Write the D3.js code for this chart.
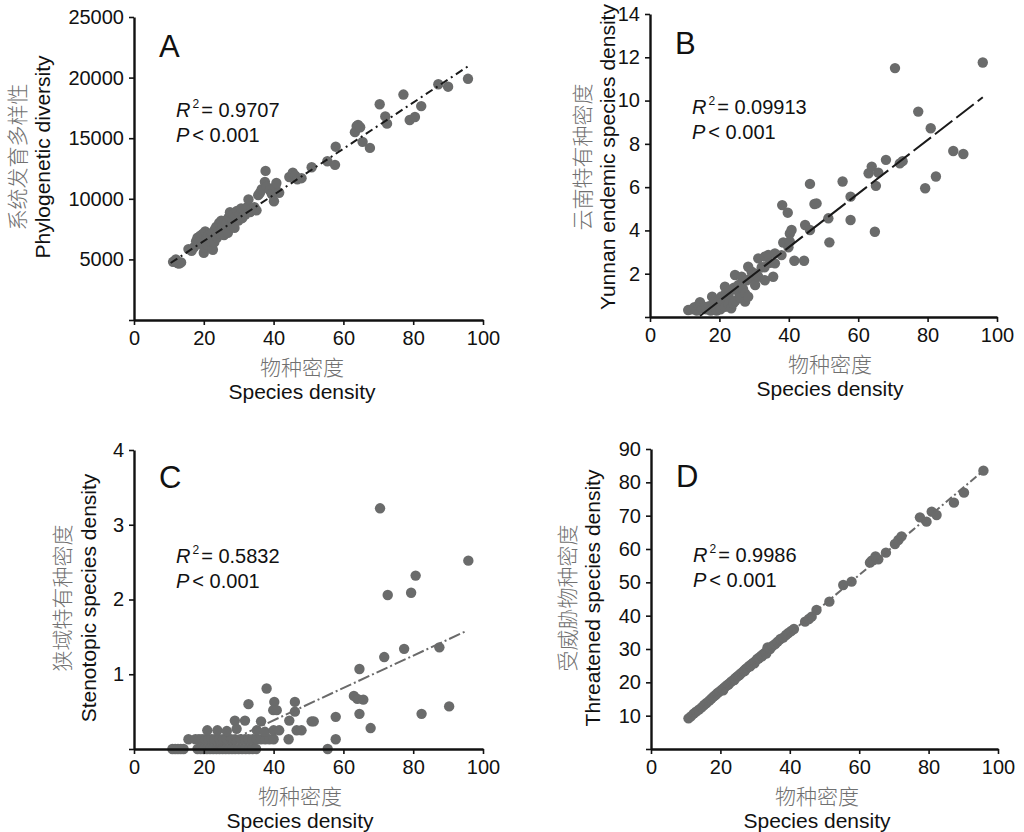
<!DOCTYPE html>
<html>
<head>
<meta charset="utf-8">
<script src="https://cdn.jsdelivr.net/npm/d3@7"></script>
<style>
  body { margin: 0; background: #fff; }
  svg text { font-family: "Liberation Sans", Arial, sans-serif; }
  .cn { font-family: "Noto Sans CJK SC", sans-serif; font-weight: 300; fill: #707070; }
</style>
</head>
<body>
<svg id="chart" width="1024" height="832"></svg>
<script>
// species density vs. each diversity metric, [x, y]
const ptsA = [[11.2,4800],[12.0,5000],[12.5,4700],[12.9,4650],[13.5,4750],[15.6,5850],[16.5,5700],[17.2,6000],[17.8,6500],[18.2,6800],[18.6,6300],[19.0,6950],[19.3,6600],[19.7,7100],[20.0,5550],[20.1,6000],[20.4,7300],[20.8,6700],[21.0,6200],[21.3,7000],[21.7,6500],[22.0,6900],[22.4,7200],[22.6,5800],[23.0,6400],[23.2,7500],[23.6,7700],[23.8,6800],[24.1,7300],[24.4,8000],[24.6,7100],[25.0,8200],[25.2,7500],[25.5,7800],[25.8,7000],[26.0,8200],[26.3,7600],[26.6,8000],[26.9,7200],[27.2,8500],[27.5,8900],[27.8,7800],[28.1,8300],[28.4,8700],[28.8,7600],[29.1,8500],[29.5,9000],[29.9,8200],[30.3,8700],[30.7,9200],[31.0,8400],[31.5,9000],[31.9,8700],[32.4,9300],[32.8,9950],[33.3,8900],[33.8,9200],[34.5,9300],[35.1,9050],[35.6,10300],[36.1,10500],[36.6,10800],[37.5,11400],[37.7,12300],[38.0,11000],[38.9,10700],[39.5,10400],[40.1,9800],[40.5,11000],[40.8,11300],[41.6,10500],[44.5,11800],[45.5,12150],[46.2,11900],[46.8,11600],[48.0,11700],[50.9,12600],[55.4,13100],[57.6,12800],[57.8,14300],[63.3,15500],[63.8,16000],[64.2,16100],[64.8,15900],[65.5,14700],[67.6,14200],[70.4,17800],[72.0,16800],[72.5,16200],[77.2,18600],[79.0,16500],[80.5,16750],[82.3,17650],[87.2,19450],[90.0,19250],[95.7,19900]];
const ptsB = [[11.0,0.32],[12.0,0.35],[12.8,0.45],[13.5,0.30],[14.0,0.55],[14.4,0.68],[15.0,0.40],[15.9,0.47],[16.2,0.35],[17.0,0.50],[17.5,0.30],[17.9,0.94],[18.5,0.70],[18.8,0.45],[19.2,0.30],[19.7,0.71],[20.0,0.55],[20.3,0.35],[20.6,0.95],[21.0,0.70],[21.6,1.40],[21.6,0.47],[21.9,1.10],[22.6,1.00],[22.6,0.60],[23.0,1.20],[23.4,0.40],[24.0,0.63],[24.2,1.35],[24.6,0.75],[24.5,1.94],[25.5,1.48],[25.7,1.10],[26.0,0.90],[26.4,1.86],[26.8,1.30],[27.4,1.09],[27.4,0.71],[27.9,1.70],[28.3,2.32],[28.3,0.94],[29.3,2.09],[29.2,1.80],[30.3,1.48],[30.7,2.00],[31.2,2.71],[31.2,1.86],[32.2,2.30],[33.0,2.30],[33.1,1.70],[33.1,2.79],[34.1,2.87],[34.6,2.50],[35.5,1.86],[36.0,2.48],[36.0,2.94],[37.9,2.86],[38.4,3.44],[38.1,5.17],[39.7,4.82],[39.9,3.22],[40.3,3.86],[40.8,4.02],[40.3,3.48],[41.6,2.60],[44.4,2.60],[44.7,4.25],[46.1,4.02],[46.1,6.15],[47.4,5.22],[48.0,5.25],[51.4,4.56],[51.7,3.45],[55.5,6.26],[57.8,5.56],[57.8,4.48],[63.0,6.64],[63.9,6.95],[64.8,3.94],[65.1,6.06],[65.8,6.67],[68.0,7.26],[72.0,7.10],[72.8,7.20],[70.6,11.50],[77.3,9.49],[79.3,5.95],[80.9,8.72],[82.4,6.49],[87.4,7.67],[90.3,7.53],[95.9,11.76]];
const ptsC = [[11.0,0],[11.8,0],[12.6,0],[13.4,0],[14.2,0],[18.2,0],[19.1,0],[20.0,0],[20.9,0],[21.8,0],[22.7,0],[23.6,0],[24.5,0],[25.4,0],[26.3,0],[27.2,0],[28.1,0],[29.0,0],[30.0,0],[31.0,0],[32.0,0],[33.0,0],[34.0,0],[35.0,0],[55.5,0],[15.6,0.13],[17.6,0.13],[18.6,0.13],[19.5,0.13],[20.4,0.13],[21.3,0.13],[22.2,0.13],[23.1,0.13],[24.5,0.13],[25.5,0.13],[26.5,0.13],[27.8,0.13],[29.0,0.13],[30.5,0.13],[31.8,0.13],[32.8,0.13],[34.0,0.13],[35.2,0.13],[36.4,0.13],[37.6,0.13],[38.8,0.13],[40.0,0.13],[44.3,0.13],[57.8,0.13],[21.0,0.25],[23.9,0.25],[26.6,0.24],[29.4,0.27],[35.2,0.25],[37.5,0.23],[40.0,0.25],[41.6,0.25],[46.6,0.25],[48.0,0.25],[28.9,0.38],[31.8,0.38],[36.4,0.37],[44.5,0.38],[50.9,0.37],[51.5,0.37],[57.8,0.43],[32.8,0.60],[38.0,0.81],[40.2,0.63],[39.9,0.52],[40.9,0.52],[46.1,0.63],[46.1,0.50],[63.0,0.71],[64.0,0.67],[65.7,0.66],[64.6,0.47],[64.6,1.07],[67.8,0.28],[71.7,1.23],[77.4,1.34],[87.5,1.36],[82.4,0.47],[90.3,0.57],[70.5,3.22],[72.7,2.06],[79.4,2.09],[80.7,2.32],[95.8,2.52]];
const ptsD = [[10.8,9.2],[11.5,9.8],[12.3,10.6],[13.0,11.2],[13.8,11.8],[14.6,12.5],[15.3,13.2],[16.0,13.8],[16.8,14.5],[17.4,15.1],[18.0,15.7],[18.6,16.2],[19.2,16.8],[19.8,17.3],[20.4,17.8],[20.8,17.6],[21.0,18.3],[21.5,18.8],[22.0,19.2],[22.3,19.3],[22.6,19.7],[23.1,20.2],[23.6,20.6],[24.0,20.7],[24.2,21.2],[24.7,21.6],[25.2,22.0],[25.5,22.2],[25.8,22.6],[26.3,23.0],[26.8,23.5],[27.0,23.4],[27.3,24.0],[27.8,24.4],[28.3,24.9],[28.6,24.8],[28.9,25.4],[29.4,25.8],[29.8,25.7],[30.0,26.3],[30.6,27.0],[31.0,27.1],[31.2,27.5],[31.8,28.0],[32.0,27.8],[32.4,28.5],[33.0,29.0],[33.2,28.6],[33.6,30.5],[34.3,30.0],[35.0,30.9],[35.8,31.5],[36.5,32.2],[37.3,33.0],[38.1,33.4],[38.9,34.2],[39.6,34.8],[40.4,35.4],[41.2,36.0],[44.4,38.2],[45.5,39.0],[46.3,39.7],[47.7,41.7],[51.4,44.2],[55.4,49.2],[57.8,50.2],[63.1,55.9],[63.6,56.5],[64.1,56.7],[64.7,57.8],[65.0,57.2],[65.5,56.9],[67.7,58.9],[70.3,61.5],[71.3,62.7],[72.2,63.8],[77.5,69.5],[79.4,68.2],[80.9,71.2],[82.3,70.2],[87.3,73.9],[90.2,76.9],[95.8,83.5]];

// fitted regression lines (end points)
const fitA = [[10.5,4700],[95.8,20950]];
const fitB = [[14.4,0.05],[95.9,10.15]];
const fitC = [[22.7,0.01],[95.3,1.58]];
const fitD = [[10.8,9.2],[95.8,83.5]];

const xTicks = [0, 20, 40, 60, 80, 100];
const yTicksA = [0, 5000, 10000, 15000, 20000, 25000];
const yTicksB = [0, 2, 4, 6, 8, 10, 12, 14];
const yTicksC = [0, 1, 2, 3, 4];
const yTicksD = [0, 10, 20, 30, 40, 50, 60, 70, 80, 90];

const xTitleCn = "物种密度";
const xTitleEn = "Species density";
const yTitles = [
  ["系统发育多样性", "Phylogenetic diversity"],
  ["云南特有种密度", "Yunnan endemic species density"],
  ["狭域特有种密度", "Stenotopic species density"],
  ["受威胁物种密度", "Threatened species density"]
];
const letters = ["A", "B", "C", "D"];
const r2Text = ["0.9707", "0.09913", "0.5832", "0.9986"];

const panels = [
  {pts: ptsA, fit: fitA, yTicks: yTicksA, l: 134, r: 483, t: 17, b: 320, cnX: 25, enX: 50, ty: 157, xc: 302, dash: "8,4,2,4", lc: "#1a1a1a"},
  {pts: ptsB, fit: fitB, yTicks: yTicksB, l: 650, r: 997, t: 14, b: 317, cnX: 590, enX: 615, ty: 157, xc: 830, dash: "22,5", lc: "#1a1a1a"},
  {pts: ptsC, fit: fitC, yTicks: yTicksC, l: 134, r: 483, t: 450, b: 749, cnX: 70, enX: 96, ty: 598, xc: 300, dash: "12,3,2,3", lc: "#6a6a6a"},
  {pts: ptsD, fit: fitD, yTicks: yTicksD, l: 651, r: 998, t: 449, b: 749, cnX: 575, enX: 600, ty: 598, xc: 817, dash: "8,3,2,3", lc: "#6a6a6a"}
];

const svg = d3.select('#chart');

panels.forEach(function(p, i) {
  const yMax = p.yTicks[p.yTicks.length - 1];
  const x = d3.scaleLinear().domain([0, 100]).range([p.l, p.r]);
  const y = d3.scaleLinear().domain([0, yMax]).range([p.b, p.t]);

  const g = svg.append('g');

  // points
  g.append('g').selectAll('circle')
      .data(p.pts)
      .enter()
      .append('circle')
      .attr('cx', d => x(d[0]))
      .attr('cy', d => y(d[1]))
      .attr('r', 5.2)
      .attr('fill', '#6a6b6b');

  // regression line
  g.append('path')
      .datum(p.fit)
      .attr('d', d3.line().x(d => x(d[0])).y(d => y(d[1])))
      .attr('fill', 'none')
      .attr('stroke', p.lc)
      .attr('stroke-width', 2)
      .attr('stroke-dasharray', p.dash);

  const xAxis = d3.axisBottom(x).tickValues(xTicks).tickSize(5).tickPadding(6).tickSizeOuter(0);
  const yAxis = d3.axisLeft(y).tickValues(p.yTicks).tickSize(5).tickPadding(5).tickSizeOuter(0)
      .tickFormat(d => d === 0 ? "" : d);

  const gx = g.append('g').attr('transform', `translate(0,${p.b})`).call(xAxis);
  const gy = g.append('g').attr('transform', `translate(${p.l},0)`).call(yAxis);
  [gx, gy].forEach(a => {
    a.select('.domain').attr('stroke', '#111').attr('stroke-width', 2.4);
    a.selectAll('.tick line').attr('stroke', '#111').attr('stroke-width', 1.6);
    a.selectAll('.tick text').attr('font-size', 20).attr('fill', '#111')
        .style('font-family', '"Liberation Sans", Arial, sans-serif');
  });

  // axis titles
  g.append('text').attr('class', 'cn')
      .attr('x', p.xc).attr('y', p.b + 55)
      .attr('text-anchor', 'middle').attr('font-size', 21)
      .text(xTitleCn);
  g.append('text')
      .attr('x', p.xc).attr('y', p.b + 79)
      .attr('text-anchor', 'middle').attr('font-size', 21).attr('fill', '#111')
      .text(xTitleEn);
  g.append('text').attr('class', 'cn')
      .attr('transform', `translate(${p.cnX},${p.ty}) rotate(-90)`)
      .attr('text-anchor', 'middle').attr('font-size', 21)
      .text(yTitles[i][0]);
  g.append('text')
      .attr('transform', `translate(${p.enX},${p.ty}) rotate(-90)`)
      .attr('text-anchor', 'middle').attr('font-size', 21).attr('fill', '#111')
      .text(yTitles[i][1]);

  // panel letter
  g.append('text')
      .attr('x', p.l + 25).attr('y', p.t + (i < 2 ? 40 : 38))
      .attr('font-size', 31).attr('fill', '#111')
      .text(letters[i]);

  // statistics
  const sx = p.l + 42;
  const sy = p.t + (i < 2 ? 100 : 113);
  const st = g.append('text').attr('x', sx).attr('y', sy).attr('font-size', 20).attr('fill', '#111');
  st.append('tspan').attr('font-style', 'italic').text('R');
  st.append('tspan').attr('font-size', 12).attr('dy', -9).attr('dx', 2).text('2');
  st.append('tspan').attr('dy', 9).attr('dx', 2).text(i === 3 ? '= ' + r2Text[i] : '=  ' + r2Text[i]);
  const pt = g.append('text').attr('x', sx).attr('y', sy + 25).attr('font-size', 20).attr('fill', '#111');
  pt.append('tspan').attr('font-style', 'italic').text('P');
  pt.append('tspan').attr('dx', 3).text('< 0.001');
});
</script>
</body>
</html>
